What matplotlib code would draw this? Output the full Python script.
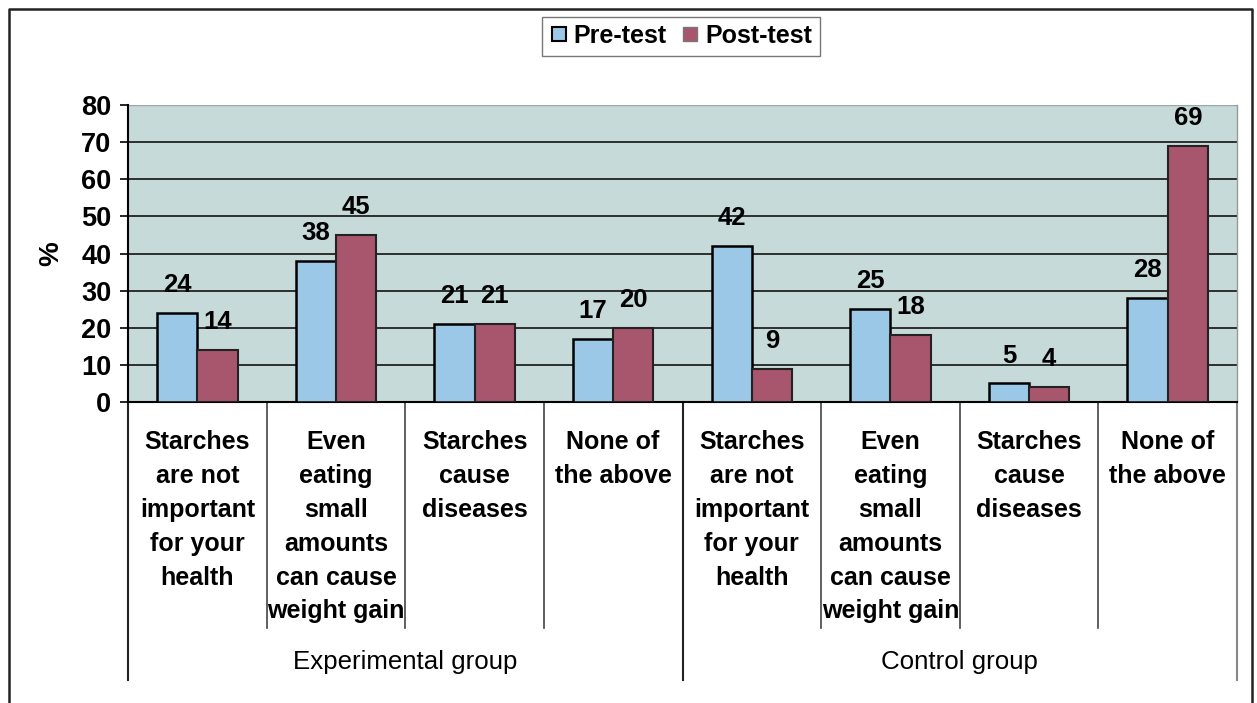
import matplotlib
matplotlib.use("Agg")
import matplotlib.pyplot as plt
from matplotlib.lines import Line2D
import numpy as np

plt.rcParams['font.family'] = ['Liberation Sans', 'DejaVu Sans']

categories = [
    "Starches\nare not\nimportant\nfor your\nhealth",
    "Even\neating\nsmall\namounts\ncan cause\nweight gain",
    "Starches\ncause\ndiseases",
    "None of\nthe above",
    "Starches\nare not\nimportant\nfor your\nhealth",
    "Even\neating\nsmall\namounts\ncan cause\nweight gain",
    "Starches\ncause\ndiseases",
    "None of\nthe above",
]
groups = ["Experimental group", "Control group"]
pre_test = [24, 38, 21, 17, 42, 25, 5, 28]
post_test = [14, 45, 21, 20, 9, 18, 4, 69]
yticks = [0, 10, 20, 30, 40, 50, 60, 70, 80]

W, H = 1257, 703
fig = plt.figure(figsize=(W / 100, H / 100), dpi=100)
ax = fig.add_axes([128 / W, 1 - 402 / H, (1237 - 128) / W, (402 - 105) / H])

pre_col = "#9cc8e8"
post_col = "#a8566e"
bg_col = "#c6dada"

ax.set_facecolor(bg_col)
x = np.arange(len(categories))
bw = 0.29
ax.bar(x - bw / 2, pre_test, bw, color=pre_col, edgecolor="black", linewidth=1.8, zorder=3)
ax.bar(x + bw / 2, post_test, bw, color=post_col, edgecolor="#222222", linewidth=1.5, zorder=3)

for xi, v in zip(x, pre_test):
    ax.annotate(str(v), (xi - bw / 2, v), xytext=(0, 20), textcoords="offset points",
                ha="center", va="center", fontsize=18.5, fontweight="bold", zorder=4)
for xi, v in zip(x, post_test):
    ax.annotate(str(v), (xi + bw / 2, v), xytext=(0, 20), textcoords="offset points",
                ha="center", va="center", fontsize=18.5, fontweight="bold", zorder=4)

ax.set_xlim(-0.5, len(categories) - 0.5)
ax.set_ylim(0, 80)
ax.set_yticks(yticks)
ax.set_yticklabels([str(t) for t in yticks], fontsize=19.5, fontweight="bold")
ax.tick_params(axis="y", length=6, width=1.2, direction="out", pad=6)
ax.set_xticks([])
for t in yticks[1:-1]:
    ax.axhline(t, color="#222222", linewidth=1.3, zorder=1)
ax.axhline(80, color="#9aa8a8", linewidth=1.0, zorder=1)

ax.spines["top"].set_visible(False)
ax.spines["right"].set_color("#999999")
ax.spines["right"].set_linewidth(1.0)
ax.spines["left"].set_linewidth(1.5)
ax.spines["bottom"].set_linewidth(1.5)

ax.set_ylabel("%", fontsize=20, fontweight="bold", labelpad=12)

axh = 402 - 105
trans = ax.get_xaxis_transform()
for b in [0.5, 1.5, 2.5, 4.5, 5.5, 6.5]:
    ax.add_line(Line2D([b, b], [0, -(628 - 402) / axh], transform=trans, color="#444444",
                       linewidth=1.2, clip_on=False))
for b in [-0.5, 3.5, 7.5]:
    ax.add_line(Line2D([b, b], [0, -(680 - 402) / axh], transform=trans,
                       color="#222222" if b != 7.5 else "#888888", linewidth=1.5, clip_on=False))

for xi, lab in zip(x, categories):
    ax.text(xi, -(430 - 402) / axh, lab, transform=trans, ha="center", va="top",
            fontsize=18, fontweight="bold", linespacing=1.52)

for gi, g in enumerate(groups):
    ax.text(1.5 + 4 * gi, -(662 - 402) / axh, g, transform=trans, ha="center", va="center",
            fontsize=18.6)

handles = [Line2D([], [], linestyle="none", marker="s", markersize=10,
                  markerfacecolor=pre_col, markeredgecolor="black", markeredgewidth=1.5),
           Line2D([], [], linestyle="none", marker="s", markersize=10,
                  markerfacecolor=post_col, markeredgecolor="#777777", markeredgewidth=1.0)]
leg = fig.legend(handles, ["Pre-test", "Post-test"], loc="center",
                 bbox_to_anchor=(681 / W, 1 - 36 / H), ncol=2, frameon=True,
                 prop={"size": 18, "weight": "bold"}, handlelength=0.7,
                 handletextpad=0.25, columnspacing=0.6, borderpad=0.3, fancybox=False)
leg.get_frame().set_edgecolor("#555555")
leg.get_frame().set_linewidth(1.0)

fig.add_artist(Line2D([9 / W, 9 / W, 1252 / W, 1252 / W],
                      [0, 1 - 9 / H, 1 - 9 / H, 0], transform=fig.transFigure,
                      color="#222222", linewidth=1.8))

fig.savefig("out.png", dpi=100)
